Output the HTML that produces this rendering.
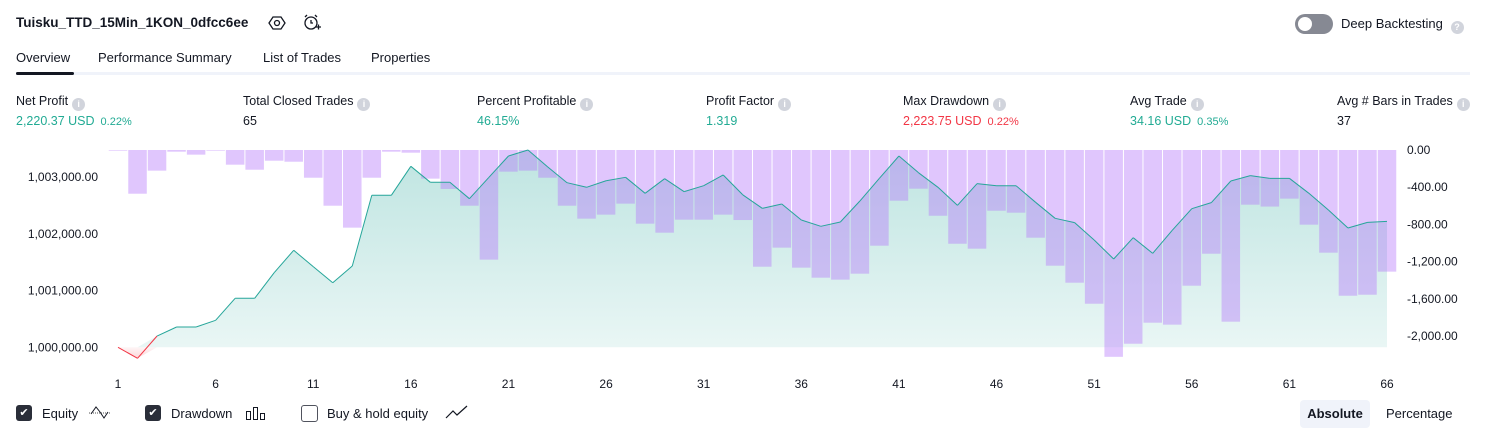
<!DOCTYPE html>
<html><head><meta charset="utf-8"><style>
body{margin:0;width:1486px;height:438px;background:#fff;font-family:"Liberation Sans",sans-serif;color:#131722;position:relative;overflow:hidden}
.a{position:absolute;white-space:nowrap}
.lbl{font-size:12.5px;color:#131722}
.val{font-size:12.5px;margin-top:3px}
.g{color:#22ab94}.r{color:#f23645}
.pct{font-size:11px;margin-left:6px}
.info{display:inline-block;width:13px;height:13px;border-radius:50%;background:#d1d4dc;color:#fff;font-size:9px;text-align:center;line-height:13px;vertical-align:-2px;margin-left:4px;font-weight:bold}
.cb{position:absolute;width:16px;height:16px;border-radius:3px;top:405px}
</style></head><body>
<div class="a" style="left:16px;top:15px;font-size:13.5px;font-weight:bold">Tuisku_TTD_15Min_1KON_0dfcc6ee</div>
<svg class="a" style="left:268px;top:14px" width="18" height="18"><polygon points="5,3 13,3 17,9 13,15 5,15 1,9" fill="none" stroke="#131722" stroke-width="1.3"/><circle cx="9" cy="9" r="2.5" fill="none" stroke="#131722" stroke-width="1.3"/></svg>
<svg class="a" style="left:302px;top:13px" width="20" height="20"><circle cx="9" cy="10" r="6" fill="none" stroke="#131722" stroke-width="1.3"/><path d="M9 7v3h2M3 4l2-2M15 4l-2-2M14 14h5M16.5 11.5v5" fill="none" stroke="#131722" stroke-width="1.3"/></svg>
<div class="a" style="left:1295px;top:14px;width:38px;height:20px;border-radius:10px;background:#868993"><div style="position:absolute;left:3px;top:3px;width:14px;height:14px;border-radius:50%;background:#fff"></div></div>
<div class="a" style="left:1341px;top:16px;font-size:13px">Deep Backtesting <span class="info">?</span></div>
<div class="a" style="left:16px;top:50px;font-size:13px">Overview</div>
<div class="a" style="left:98px;top:50px;font-size:13px">Performance Summary</div>
<div class="a" style="left:263px;top:50px;font-size:13px">List of Trades</div>
<div class="a" style="left:371px;top:50px;font-size:13px">Properties</div>
<div class="a" style="left:16px;top:72px;width:1454px;height:3px;background:#f0f3fa"></div>
<div class="a" style="left:16px;top:72px;width:58px;height:3px;background:#131722;border-radius:2px"></div>

<div class="a" style="left:16px;top:94px"><div class="lbl">Net Profit<span class="info">i</span></div><div class="val g">2,220.37 USD<span class="pct">0.22%</span></div></div>
<div class="a" style="left:243px;top:94px"><div class="lbl">Total Closed Trades<span class="info">i</span></div><div class="val">65</div></div>
<div class="a" style="left:477px;top:94px"><div class="lbl">Percent Profitable<span class="info">i</span></div><div class="val g">46.15%</div></div>
<div class="a" style="left:706px;top:94px"><div class="lbl">Profit Factor<span class="info">i</span></div><div class="val g">1.319</div></div>
<div class="a" style="left:903px;top:94px"><div class="lbl">Max Drawdown<span class="info">i</span></div><div class="val r">2,223.75 USD<span class="pct">0.22%</span></div></div>
<div class="a" style="left:1130px;top:94px"><div class="lbl">Avg Trade<span class="info">i</span></div><div class="val g">34.16 USD<span class="pct">0.35%</span></div></div>
<div class="a" style="left:1337px;top:94px"><div class="lbl">Avg # Bars in Trades<span class="info">i</span></div><div class="val">37</div></div>

<svg id="chart" width="1486" height="438" style="position:absolute;left:0;top:0">
<defs>
<linearGradient id="gg" x1="0" y1="0" x2="0" y2="1"><stop offset="0" stop-color="#26a69a" stop-opacity="0.3"/><stop offset="1" stop-color="#26a69a" stop-opacity="0.1"/></linearGradient>
<linearGradient id="rg" x1="0" y1="0" x2="0" y2="1"><stop offset="0" stop-color="#f23645" stop-opacity="0.05"/><stop offset="1" stop-color="#f23645" stop-opacity="0.2"/></linearGradient>
</defs>
<g id="area"></g><g id="bars"></g><g id="line"></g><g id="axes"></g>
</svg>

<div class="cb" style="left:16px;background:#2a2e39;color:#fff;font-size:11px;text-align:center;line-height:16px">✔</div>
<div class="a" style="left:42px;top:406px;font-size:13px">Equity</div>
<svg class="a" style="left:88px;top:404px" width="24" height="16"><path d="M1 9h22" stroke="#555" stroke-dasharray="1,1"/><path d="M3 10l5-7 4 5 4 6 4-6" fill="none" stroke="#131722"/></svg>
<div class="cb" style="left:145px;background:#2a2e39;color:#fff;font-size:11px;text-align:center;line-height:16px">✔</div>
<div class="a" style="left:171px;top:406px;font-size:13px">Drawdown</div>
<svg class="a" style="left:245px;top:405px" width="22" height="16"><rect x="1.5" y="6.5" width="4" height="8" fill="none" stroke="#131722"/><rect x="8.5" y="2.5" width="4" height="12" fill="none" stroke="#131722"/><rect x="15.5" y="8.5" width="4" height="6" fill="none" stroke="#131722"/></svg>
<div class="cb" style="left:301px;border:1px solid #50535e;width:15px;height:15px;background:#fff"></div>
<div class="a" style="left:327px;top:406px;font-size:13px">Buy &amp; hold equity</div>
<svg class="a" style="left:445px;top:404px" width="24" height="16"><path d="M1 14l7-7 4 4 10-9" fill="none" stroke="#131722" stroke-width="1.2"/></svg>
<div class="a" style="left:1300px;top:400px;width:70px;height:28px;background:#f0f3fa;border-radius:4px;font-size:13px;font-weight:bold;text-align:center;line-height:28px">Absolute</div>
<div class="a" style="left:1386px;top:406px;font-size:13px">Percentage</div>

<script>
const equity=[0,-194,199,358,358,476,864,864,1316,1711,1422,1139,1434,2681,2681,3192,2910,2910,2621,2998,3374,3480,3185,2903,2822,2938,2998,2716,2974,2745,2850,3039,2690,2451,2527,2245,2134,2210,2580,2980,3374,3080,2822,2504,2886,2850,2850,2557,2275,2198,1892,1557,1933,1657,2063,2445,2551,2933,3027,2980,2980,2716,2422,2104,2204,2220];
const drawdown=[-7,-470,-222,-18,-50,-7,-158,-212,-115,-126,-298,-599,-835,-298,-18,-29,-308,-419,-599,-1179,-233,-222,-298,-599,-738,-695,-577,-792,-889,-749,-749,-695,-753,-1255,-1050,-1265,-1373,-1394,-1330,-1029,-545,-416,-707,-1008,-1061,-653,-674,-943,-1244,-1427,-1653,-2224,-2083,-1857,-1878,-1459,-1115,-1846,-588,-608,-523,-803,-1104,-1567,-1556,-1308];
const xTicks=[1,6,11,16,21,26,31,36,41,46,51,56,61,66];
const eqTicks=[1000000,1001000,1002000,1003000];
const eqTickLabels=["1,000,000.00","1,001,000.00","1,002,000.00","1,003,000.00"];
const ddTicks=[0,-400,-800,-1200,-1600,-2000];
const ddTickLabels=["0.00","-400.00","-800.00","-1,200.00","-1,600.00","-2,000.00"];
const BASE=1000000;
const NS="http://www.w3.org/2000/svg";
const x=i=>118+(i-1)*(1387-118)/65;
const yE=v=>347.3-(v-BASE)*0.0567;
const yD=v=>150+v*(-186/2000);
function mk(t,a,p){const e=document.createElementNS(NS,t);for(const k in a)e.setAttribute(k,a[k]);p.appendChild(e);return e;}
const area=document.getElementById('area'),bars=document.getElementById('bars'),line=document.getElementById('line'),axes=document.getElementById('axes');
const pts=equity.map((v,i)=>[x(i+1),yE(BASE+v)]);
let d='M'+pts[0][0]+','+yE(BASE)+pts.map(p=>'L'+p[0]+','+Math.min(p[1],yE(BASE))).join('')+'L'+pts[pts.length-1][0]+','+yE(BASE)+'Z';
const ga=mk('path',{d:d,fill:'url(#gg)'},area);


d='M'+pts[0][0]+','+yE(BASE)+pts.map(p=>'L'+p[0]+','+Math.max(p[1],yE(BASE))).join('')+'L'+pts[pts.length-1][0]+','+yE(BASE)+'Z';
const ra=mk('path',{d:d,fill:'url(#rg)'},area);


const bw=(1387-118)/65;
drawdown.forEach((v,i)=>{
  const r=mk('rect',{x:x(i+1)-bw/2+0.5,y:yD(0),width:bw-1,height:yD(v)-yD(0),fill:'rgb(180,120,250)','fill-opacity':0.42},bars);
  
  
});
for(let i=1;i<pts.length;i++){
  const neg=equity[i]<0||equity[i-1]<0;
  const s=mk('line',{x1:pts[i-1][0],y1:pts[i-1][1],x2:pts[i][0],y2:pts[i][1],stroke:neg?'#f23645':'#26a69a','stroke-width':1},line);
  
  
}
xTicks.forEach(t=>{
  const e=mk('text',{x:x(t),y:388,'text-anchor':'middle','font-size':12,fill:'#131722','font-family':'Liberation Sans'},axes);e.textContent=t;
  
  
});
eqTicks.forEach((t,i)=>{
  const e=mk('text',{x:98,y:yE(t)+4,'text-anchor':'end','font-size':12,fill:'#131722','font-family':'Liberation Sans'},axes);e.textContent=eqTickLabels[i];
  
  
});
ddTicks.forEach((t,i)=>{
  const e=mk('text',{x:1407,y:yD(t)+4,'font-size':12,fill:'#131722','font-family':'Liberation Sans'},axes);e.textContent=ddTickLabels[i];
  
  
});
</script>
</body></html>
